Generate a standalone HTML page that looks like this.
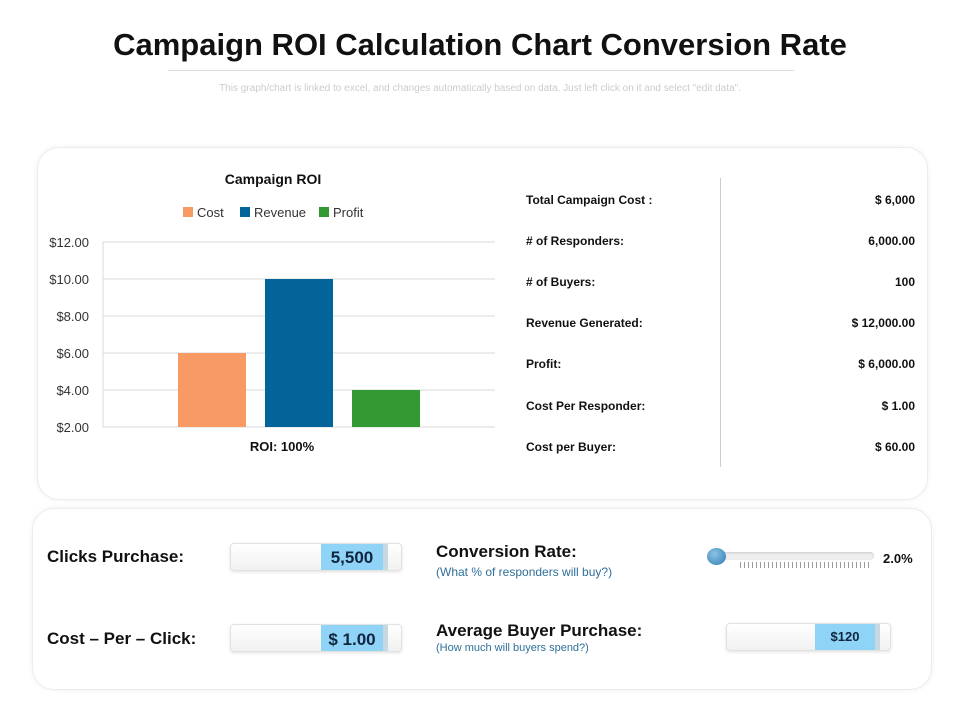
<!DOCTYPE html>
<html><head><meta charset="utf-8"><style>
body{margin:0;width:960px;height:720px;background:#fff;font-family:"Liberation Sans",sans-serif;position:relative;overflow:hidden}
.abs{position:absolute}
.panel{position:absolute;border:1px solid #ececec;border-radius:22px;box-shadow:0 0 6px rgba(0,0,0,.06);background:#fff}
.row{position:absolute;left:526px;width:389px;font-size:12px;font-weight:bold;color:#111}
.row span:last-child{position:absolute;right:0}
.field{position:absolute;height:26px;background:linear-gradient(#fff,#f1f1f1);border:1px solid #e2e2e2;border-radius:4px;box-shadow:0 1px 3px rgba(0,0,0,.12)}
.fill{position:absolute;top:0;bottom:0;background:#8fd3f7;font-weight:bold;color:#0f2540;text-align:center;border-right:5px solid #c8d8e0}
.lab{position:absolute;font-size:17px;font-weight:bold;color:#111}
.sub{position:absolute;font-size:12px;color:#2f6f9a}
</style></head><body>
<div class="abs" style="left:0;width:960px;top:27px;text-align:center;font-size:31px;font-weight:bold;color:#111">Campaign ROI Calculation Chart Conversion Rate</div>
<div class="abs" style="left:168px;width:626px;top:70px;border-top:1px solid #ddd"></div>
<div class="abs" style="left:0;width:960px;top:83px;text-align:center;font-size:10px;color:#ccc">This graph/chart is linked to excel, and changes automatically based on data. Just left click on it and select "edit data".</div>

<div class="panel" style="left:37px;top:147px;width:889px;height:351px"></div>
<svg class="abs" style="left:0;top:0" width="960" height="720" id="chart"></svg>
<div class="abs" style="left:720px;top:178px;height:289px;border-left:1px solid #ccc"></div>
<div class="row" style="top:193px"><span>Total Campaign Cost :</span><span>$ 6,000</span></div>
<div class="row" style="top:234px"><span># of Responders:</span><span>6,000.00</span></div>
<div class="row" style="top:275px"><span># of Buyers:</span><span>100</span></div>
<div class="row" style="top:316px"><span>Revenue Generated:</span><span>$ 12,000.00</span></div>
<div class="row" style="top:357px"><span>Profit:</span><span>$ 6,000.00</span></div>
<div class="row" style="top:399px"><span>Cost Per Responder:</span><span>$ 1.00</span></div>
<div class="row" style="top:440px"><span>Cost per Buyer:</span><span>$ 60.00</span></div>

<div class="panel" style="left:32px;top:508px;width:898px;height:180px"></div>
<div class="lab" style="left:47px;top:547px">Clicks Purchase:</div>
<div class="field" style="left:230px;top:543px;width:170px"><div class="fill" style="left:90px;width:62px;font-size:17px;line-height:28px">5,500</div></div>
<div class="lab" style="left:47px;top:629px">Cost – Per – Click:</div>
<div class="field" style="left:230px;top:624px;width:170px"><div class="fill" style="left:90px;width:62px;font-size:17px;line-height:30px">$ 1.00</div></div>
<div class="lab" style="left:436px;top:542px">Conversion Rate:</div>
<div class="sub" style="left:436px;top:565px">(What % of responders will buy?)</div>
<div class="abs" style="left:710px;top:552px;width:164px;height:8px;border-radius:4px;background:#eee;box-shadow:inset 0 1px 2px rgba(0,0,0,.15)"></div>
<div class="abs" style="left:740px;top:562px;width:130px;height:6px;background:repeating-linear-gradient(90deg,#999 0 1px,transparent 1px 4px)"></div>
<div class="abs" style="left:707px;top:548px;width:19px;height:17px;border-radius:50%;background:radial-gradient(circle at 40% 35%,#8cc3e6,#2e7cb3)"></div>
<div class="abs" style="left:883px;top:551px;font-size:13px;font-weight:bold;color:#111">2.0%</div>
<div class="lab" style="left:436px;top:621px">Average Buyer Purchase:</div>
<div class="sub" style="left:436px;top:642px;font-size:11px">(How much will buyers spend?)</div>
<div class="field" style="left:726px;top:623px;width:163px"><div class="fill" style="left:88px;width:60px;font-size:13px;line-height:26px">$120</div></div>

<script>
const categories=["Cost","Revenue","Profit"];
const values=[6,10,4];
const colors=["#f79a63","#03649a","#339933"];
const ticks=[2,4,6,8,10,12];
const tickLabels=["$2.00","$4.00","$6.00","$8.00","$10.00","$12.00"];
const svg=document.getElementById('chart');const NS="http://www.w3.org/2000/svg";
function y(v){return 427-(v-2)*(185/10);}
function x(i){return 178+i*87;}
function mk(t,a,txt){const e=document.createElementNS(NS,t);for(const k in a)e.setAttribute(k,a[k]);if(txt!=null)e.textContent=txt;svg.appendChild(e);return e;}
let e=mk('text',{x:273,y:184,'text-anchor':'middle','font-size':14,'font-weight':'bold',fill:'#111'},'Campaign ROI');


const lx=[183,240,319];
categories.forEach((c,i)=>{
 let r=mk('rect',{x:lx[i],y:207,width:10,height:10,fill:colors[i]});
 
 
 let t=mk('text',{x:lx[i]+14,y:217,'font-size':13,fill:'#333'},c);
 
 
});
ticks.forEach((v,i)=>{
 let l=mk('line',{x1:103,x2:495,y1:y(v),y2:y(v),stroke:'#d9d9d9'});
 
 
 let t=mk('text',{x:89,y:y(v)+5,'text-anchor':'end','font-size':13,fill:'#333'},tickLabels[i]);
 
 
});
mk('line',{x1:103,x2:103,y1:y(12),y2:y(2),stroke:'#d9d9d9'});
values.forEach((v,i)=>{
 let r=mk('rect',{x:x(i),y:y(v),width:68,height:y(2)-y(v),fill:colors[i]});
 
 
});
e=mk('text',{x:282,y:451,'text-anchor':'middle','font-size':13,'font-weight':'bold',fill:'#111'},'ROI: 100%');


</script>
</body></html>
